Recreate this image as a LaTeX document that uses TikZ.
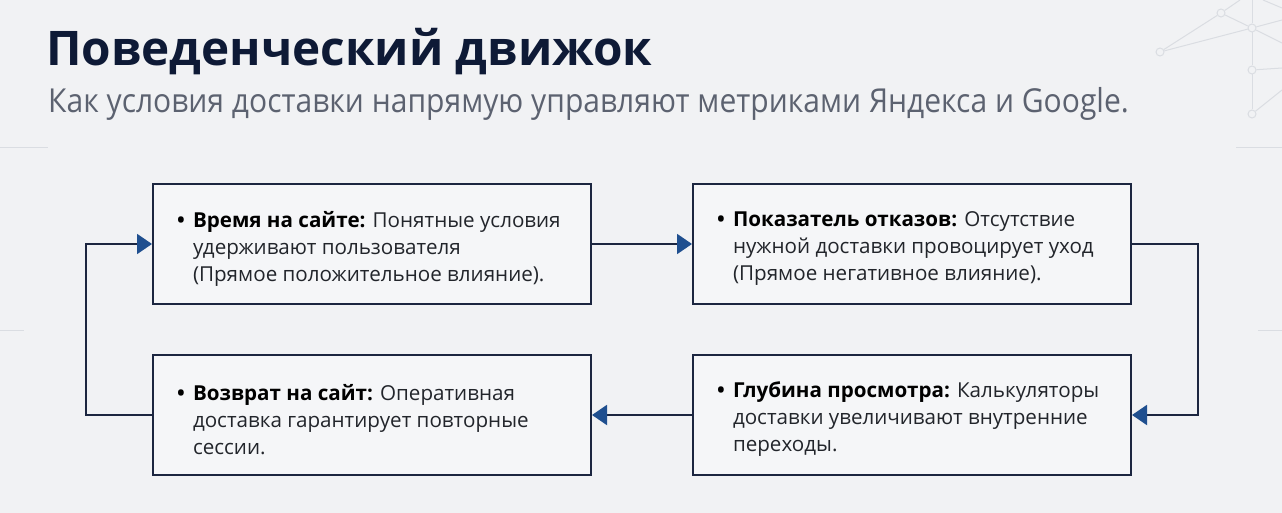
\documentclass[tikz,border=0pt]{standalone}
\usepackage{fontspec}
\setmainfont{Open Sans}
\newfontfamily\subfont[FakeStretch=0.91]{Open Sans}
\usetikzlibrary{arrows.meta}
\definecolor{bgc}{HTML}{F1F2F4}
\definecolor{titlec}{HTML}{0E1A36}
\definecolor{subc}{HTML}{5C6270}
\definecolor{borderc}{HTML}{1C2640}
\definecolor{arrowc}{HTML}{1F4F8F}
\definecolor{boxfill}{HTML}{F5F6F8}
\definecolor{faint}{HTML}{DADDE2}
\definecolor{textc}{HTML}{22252B}
\tikzset{
  card/.style={draw=borderc, line width=2pt, fill=boxfill, minimum width=438pt, minimum height=120pt, inner sep=0pt, text=textc, font=\fontsize{20.6}{27}\selectfont},
  flow/.style={draw=borderc, line width=2pt, -{Triangle[length=15pt,width=20pt,color=arrowc]}},
  deco/.style={draw=faint, line width=1pt},
  dot/.style={draw=faint, line width=1pt, fill=bgc, circle, inner sep=0pt, minimum size=8pt},
}
\newcommand{\cardtext}[3]{\raisebox{-4.5pt}[\height][\depth]{\makebox[16pt][l]{\textbf{\color{black}\textbullet}}\parbox[t]{374pt}{\raggedright\textbf{\color{black}#1:} #2\\#3}}}
\begin{document}
\begin{tikzpicture}[x=1pt,y=-1pt]
\fill[bgc] (0,0) rectangle (1282,513);
\useasboundingbox (0,0) rectangle (1282,513);
% faint background lines
\draw[deco] (0,148) -- (48,148);
\draw[deco] (0,330) -- (24,330);
\draw[deco] (1258,330) -- (1282,330);
\draw[deco] (1236,148) -- (1282,148);
% network decoration
\coordinate (n0a) at (1240,0);
\coordinate (n0b) at (1252,0);
\coordinate (e1) at (1282,20);
\coordinate (e2) at (1282,43);
\coordinate (e3) at (1282,68);
\coordinate (e4) at (1282,90);
\coordinate (e5) at (1263,0);
\coordinate (e6) at (1282,8);
\node[dot] (n1) at (1160,52) {};
\node[dot] (n2) at (1221,13) {};
\node[dot] (n3) at (1252,28) {};
\node[dot] (n4) at (1252,70) {};
\node[dot] (n5) at (1252,114) {};
\draw[deco] (n1) -- (n2);
\draw[deco] (n1) -- (n3);
\draw[deco] (n2) -- (n3);
\draw[deco] (n2) -- (n0a);
\draw[deco] (n0b) -- (n3);
\draw[deco] (n3) -- (n4);
\draw[deco] (n4) -- (n5);
\draw[deco] (n3) -- (e1);
\draw[deco] (n3) -- (e2);
\draw[deco] (n4) -- (e3);
\draw[deco] (n5) -- (e4);
\draw[deco] (e5) -- (e6);
% title
\node[anchor=base west, inner sep=0pt, text=titlec, font=\fontsize{47.7}{56}\selectfont\bfseries] (title) at (46,66) {Поведенческий движок};
\node[anchor=base west, inner sep=0pt, text=subc, font=\subfont\fontsize{33}{40}\selectfont] (sub) at (48,113) {Как условия доставки напрямую управляют метриками Яндекса и Google.};
% cards
\node[card] (b1) at (372,244) {\cardtext{Время на сайте}{Понятные условия}{удерживают пользователя\\(Прямое положительное влияние).}};
\node[card] (b2) at (912,244) {\cardtext{Показатель отказов}{Отсутствие}{нужной доставки провоцирует уход\\(Прямое негативное влияние).}};
\node[card] (b3) at (372,415) {\cardtext{Возврат на сайт}{Оперативная}{доставка гарантирует повторные\\сессии.}};
\node[card] (b4) at (912,415) {\cardtext{Глубина просмотра}{Калькуляторы}{доставки увеличивают внутренние\\переходы.}};
% connectors
\draw[flow] (b1.east) -- (b2.west);
\draw[flow] (b2.east) -- ++(66,0) |- (b4.east);
\draw[flow] (b4.west) -- (b3.east);
\draw[flow] (b3.west) -- ++(-66,0) |- (b1.west);
\end{tikzpicture}
\end{document}
